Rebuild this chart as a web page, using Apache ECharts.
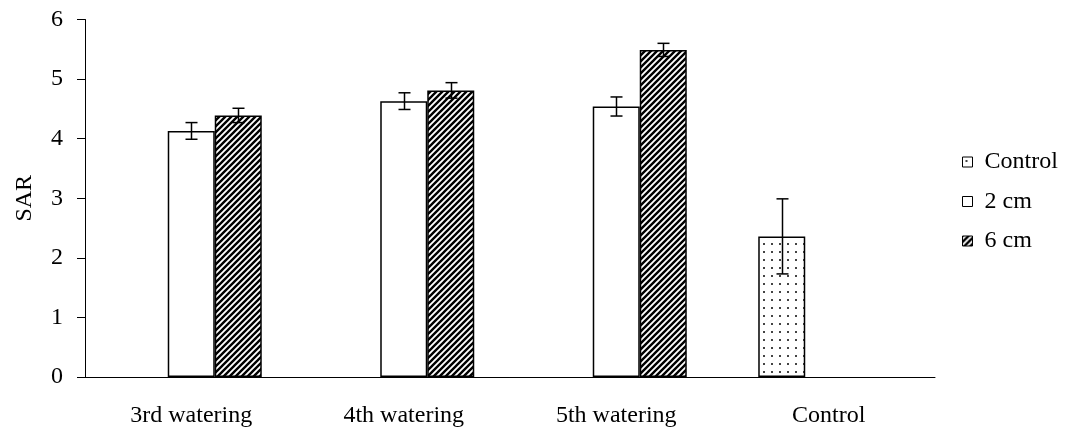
<!DOCTYPE html>
<html>
<head>
<meta charset="utf-8">
<script src="https://cdn.jsdelivr.net/npm/echarts@6/dist/echarts.min.js"></script>
<style>html,body{margin:0;padding:0;background:#fff}#c{width:1067px;height:433px}</style>
</head>
<body>
<div id="c"></div>
<script>
const categories = ['3rd watering', '4th watering', '5th watering', 'Control'];
const yTicks = [0, 1, 2, 3, 4, 5, 6];
const controlValues = [null, null, null, 2.36];
const controlErr = [null, null, null, 0.63];
const cm2Values = [4.13, 4.63, 4.54, null];
const cm2Err = [0.14, 0.14, 0.16, null];
const cm6Values = [4.39, 4.81, 5.49, null];
const cm6Err = [0.12, 0.13, 0.11, null];

function hatch() {
  const s = 6, c = document.createElement('canvas');
  c.width = s; c.height = s;
  const g = c.getContext('2d');
  g.fillStyle = '#fff'; g.fillRect(0, 0, s, s);
  g.strokeStyle = '#000'; g.lineWidth = 2.4;
  g.beginPath();
  g.moveTo(-1, s + 1); g.lineTo(s + 1, -1);
  g.moveTo(-1, 1); g.lineTo(1, -1);
  g.moveTo(s - 1, s + 1); g.lineTo(s + 1, s - 1);
  g.stroke();
  return c;
}
function dots() {
  const c = document.createElement('canvas');
  c.width = 8; c.height = 8;
  const g = c.getContext('2d');
  g.fillStyle = '#fff'; g.fillRect(0, 0, 8, 8);
  g.fillStyle = '#444';
  g.fillRect(3, 3, 2, 2);
  return c;
}
const hatchFill = { image: hatch(), repeat: 'repeat' };
const dotFill = { image: dots(), repeat: 'repeat' };

const BW = 0.2212;
function errSeries(vals, errs, idx) {
  const data = [];
  vals.forEach((v, i) => { if (v != null) data.push([i, v, errs[i]]); });
  return {
    type: 'custom', z: 10, silent: true,
    data: data,
    renderItem: function (params, api) {
      const ci = api.value(0), v = api.value(1), e = api.value(2);
      const catW = api.size([1, 0])[0];
      const off = catW * BW * (idx - 1);
      const top = api.coord([ci, v + e]);
      const bot = api.coord([ci, v - e]);
      const x = Math.round(top[0] + off) + 0.5;
      const hw = 6;
      const st = { stroke: '#000', lineWidth: 1.5 };
      return { type: 'group', children: [
        { type: 'line', shape: { x1: x, y1: top[1], x2: x, y2: bot[1] }, style: st },
        { type: 'line', shape: { x1: x - hw, y1: top[1], x2: x + hw, y2: top[1] }, style: st },
        { type: 'line', shape: { x1: x - hw, y1: bot[1], x2: x + hw, y2: bot[1] }, style: st }
      ]};
    }
  };
}

const chart = echarts.init(document.getElementById('c'), null, { renderer: 'canvas' });
const font = 'Liberation Serif';
chart.setOption({
  animation: false,
  textStyle: { fontFamily: font },
  grid: { left: 85, right: 132, top: 19.5, bottom: 56 },
  legend: {
    orient: 'vertical', left: 957, top: 145, itemWidth: 10, itemHeight: 10, itemGap: 15.5,
    icon: 'rect',
    itemStyle: { borderWidth: 1, borderColor: '#000' },
    data: ['Control', '2 cm', '6 cm'],
    textStyle: { fontFamily: font, fontSize: 24, color: '#000', padding: [0, 0, 0, 7] }
  },
  xAxis: {
    type: 'category', data: categories,
    axisLine: { lineStyle: { color: '#000', width: 1 } },
    axisTick: { length: 8, lineStyle: { color: '#000' } },
    axisLabel: { color: '#000', fontSize: 24, fontFamily: font, margin: 27 }
  },
  yAxis: {
    type: 'value', min: 0, max: 6, interval: 1,
    name: 'SAR', nameLocation: 'middle', nameGap: 48, nameRotate: 90,
    nameTextStyle: { color: '#000', fontSize: 24, fontFamily: font },
    axisLine: { show: true, lineStyle: { color: '#000', width: 1 } },
    axisTick: { show: true, length: 8, lineStyle: { color: '#000' } },
    axisLabel: { color: '#000', fontSize: 24, fontFamily: font, margin: 22,
      formatter: v => yTicks.includes(v) ? String(v) : '' },
    splitLine: { show: false }
  },
  series: [
    { name: 'Control', type: 'bar', data: controlValues, barWidth: (BW * 100) + '%', barGap: '0%',
      itemStyle: { color: dotFill, borderColor: '#000', borderWidth: 1.5 } },
    { name: '2 cm', type: 'bar', data: cm2Values, barWidth: (BW * 100) + '%', barGap: '0%',
      itemStyle: { color: '#fff', borderColor: '#000', borderWidth: 1.5 } },
    { name: '6 cm', type: 'bar', data: cm6Values, barWidth: (BW * 100) + '%', barGap: '0%',
      itemStyle: { color: hatchFill, borderColor: '#000', borderWidth: 1.5 } },
    errSeries(controlValues, controlErr, 0),
    errSeries(cm2Values, cm2Err, 1),
    errSeries(cm6Values, cm6Err, 2)
  ]
});
</script>
</body>
</html>
